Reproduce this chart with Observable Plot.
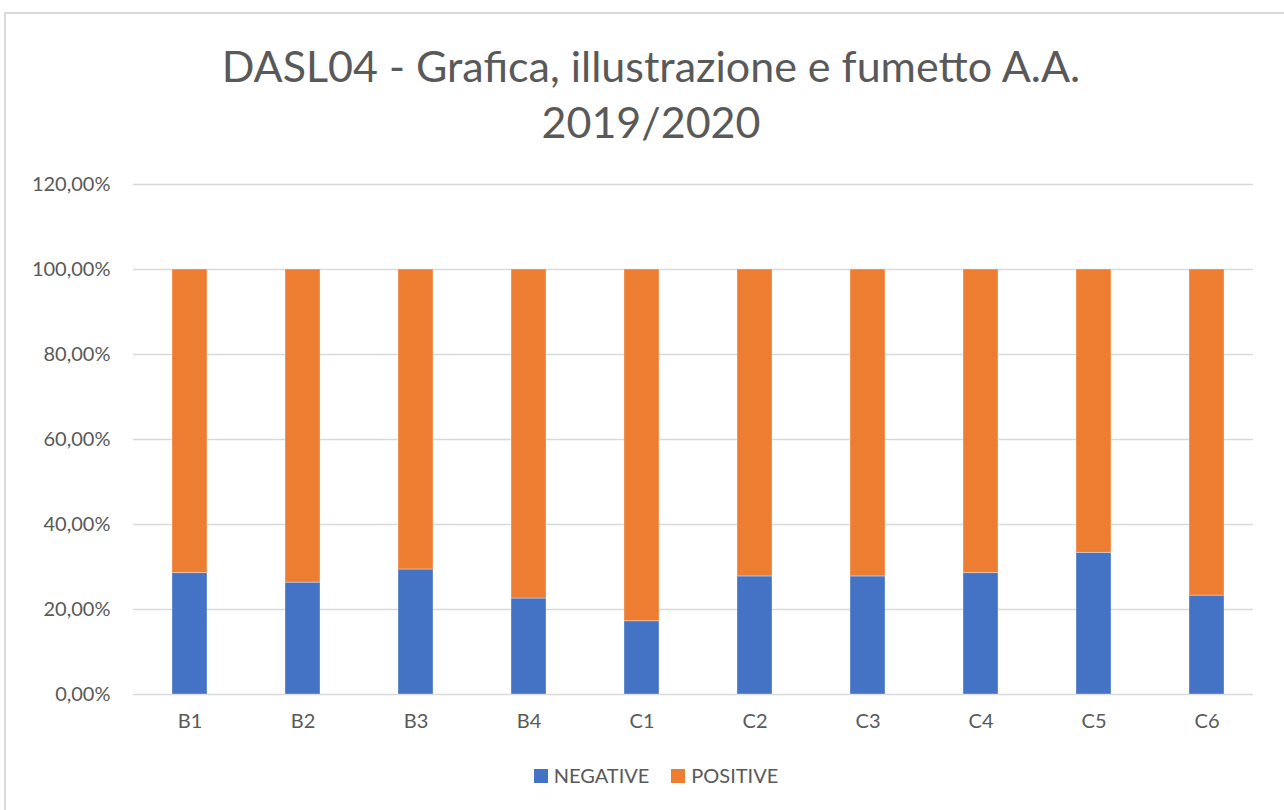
<!DOCTYPE html>
<html>
<head>
<meta charset="utf-8">
<script src="https://cdn.jsdelivr.net/npm/d3@7"></script>
<script src="https://cdn.jsdelivr.net/npm/@observablehq/plot@0.6"></script>
<style>
  body { margin: 0; background: #fff; font-family: Lato, "Open Sans", sans-serif; }
  #frame { position: absolute; left: 4px; top: 12px; width: 1300px; height: 820px; border: 2px solid #d9d9d9; box-sizing: border-box; }
  #title { position: absolute; left: 0; width: 1302px; top: 38px; text-align: center; color: #595959; font-size: 43px; line-height: 56px; }
  #chart { position: absolute; left: 0; top: 160px; }
  #legend { position: absolute; left: 0; width: 1312px; top: 763px; text-align: center; color: #595959; font-size: 20px; }
  .sw { display: inline-block; width: 14px; height: 14px; margin-right: 6px; vertical-align: 0px; }
  .item { margin: 0 11px; }
</style>
</head>
<body>
<div id="frame"></div>
<div id="title">DASL04 - Grafica, illustrazione e fumetto A.A.<br>2019/2020</div>
<div id="chart"></div>
<div id="legend"></div>
<script>
const categories = ["B1","B2","B3","B4","C1","C2","C3","C4","C5","C6"];
const negative = [0.2857, 0.2632, 0.2941, 0.2258, 0.1724, 0.2778, 0.2778, 0.2857, 0.3333, 0.2326];
const seriesNames = ["NEGATIVE", "POSITIVE"];
const seriesColors = ["#4472C4", "#ED7D31"];
const yTicks = [0, 0.2, 0.4, 0.6, 0.8, 1.0, 1.2];

const data = [];
categories.forEach((c, i) => {
  data.push({cat: c, series: "NEGATIVE", value: negative[i]});
  data.push({cat: c, series: "POSITIVE", value: 1 - negative[i]});
});

const fmt = v => (v * 100).toFixed(2).replace(".", ",") + "%";

const chart = Plot.plot({
  width: 1284,
  height: 590,
  marginLeft: 133,
  marginRight: 31,
  marginTop: 24,
  marginBottom: 56,
  style: {fontFamily: "Lato, 'Open Sans', sans-serif", fontSize: "20px", color: "#595959", background: "transparent"},
  x: {domain: categories, label: null, range: [133, 1263], paddingInner: 0.69, paddingOuter: 0.345, tickSize: 0, tickPadding: 19},
  y: {domain: [0, 1.2], ticks: yTicks, tickFormat: fmt, label: null, tickSize: 0, tickPadding: 23},
  color: {domain: seriesNames, range: seriesColors},
  marks: [
    Plot.ruleY(yTicks, {stroke: "#d9d9d9", strokeWidth: 1.5}),
    Plot.barY(data, {x: "cat", y: "value", fill: "series", order: seriesNames, stroke: "#ffffff", strokeOpacity: 0.35, strokeWidth: 1})
  ]
});
document.getElementById("chart").appendChild(chart);

const legend = document.getElementById("legend");
seriesNames.forEach((s, i) => {
  const span = document.createElement("span");
  span.className = "item";
  span.innerHTML = `<span class="sw" style="background:${seriesColors[i]}"></span>${s}`;
  legend.appendChild(span);
});
</script>
</body>
</html>
